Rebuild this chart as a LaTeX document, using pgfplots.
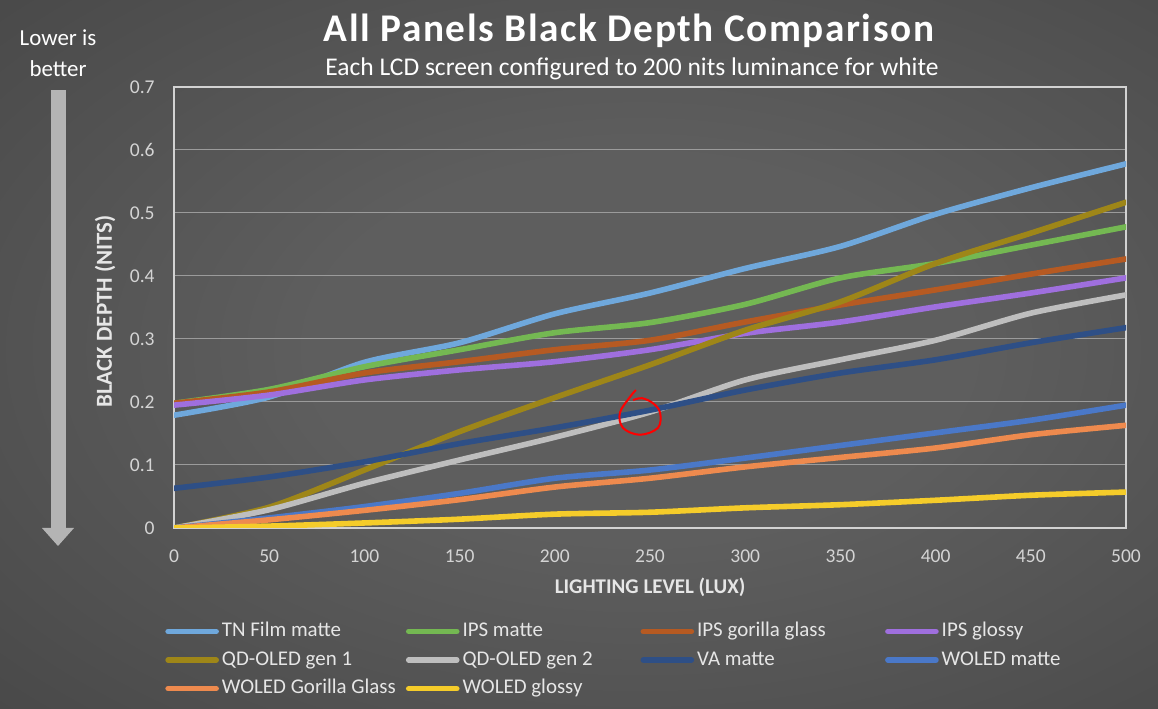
\documentclass[border=0pt]{standalone}
\usepackage{fontspec}
\setmainfont{Carlito}
\usepackage{pgfplots}
\pgfplotsset{compat=1.18}
\definecolor{bgin}{HTML}{5E5E5E}
\definecolor{bgout}{HTML}{1E1E1E}
\definecolor{tnc}{HTML}{6FA8DC}
\definecolor{ipsm}{HTML}{74B852}
\definecolor{ipsg}{HTML}{B65A22}
\definecolor{ipsgl}{HTML}{9F6FDE}
\definecolor{qd1}{HTML}{9E8618}
\definecolor{qd2}{HTML}{BEBEBE}
\definecolor{vam}{HTML}{2E4F86}
\definecolor{wm}{HTML}{4A78C8}
\definecolor{wgg}{HTML}{EE8A4E}
\definecolor{wgl}{HTML}{F5CC2A}
\definecolor{txt}{HTML}{E6E6E6}
\definecolor{tick}{HTML}{D4D4D4}
\definecolor{arrowgray}{HTML}{B4B4B4}
\pgfdeclareradialshading{bgshade}{\pgfpoint{0bp}{0bp}}{color(0bp)=(bgin); color(12bp)=(bgin); color(75bp)=(bgout)}
\newfontfamily\titlefont[LetterSpace=4]{Carlito}
\begin{document}
\begin{tikzpicture}
\path[use as bounding box] (0bp,0bp) rectangle (579bp,354.5bp);
\begin{scope}
\clip (0bp,0bp) rectangle (579bp,354.5bp);
\fill[bgout] (0bp,0bp) rectangle (579bp,354.5bp);
\shade[shading=bgshade] (-20bp,-20bp) rectangle (660bp,380bp);
\end{scope}
% title
\node[text=white, font=\titlefont\bfseries\fontsize{19.7}{23}\selectfont] at (314.5bp,339bp) {All Panels Black Depth Comparison};
\node[text=white, font=\fontsize{12.8}{15}\selectfont] at (316bp,320bp) {Each LCD screen configured to 200 nits luminance for white};
% lower is better
\node[text=white, font=\fontsize{11.5}{13}\selectfont] at (29bp,335.5bp) {Lower is};
\node[text=white, font=\fontsize{11.5}{13}\selectfont] at (29bp,320bp) {better};
\fill[arrowgray] (25.5bp,309.5bp) rectangle (33bp,90.5bp);
\fill[arrowgray] (21bp,90.5bp) -- (37bp,90.5bp) -- (29bp,81.5bp) -- cycle;
\begin{axis}[
  at={(87bp,90.5bp)}, anchor=south west,
  scale only axis, width=476bp, height=220.5bp,
  xmin=0, xmax=500, ymin=0, ymax=0.7,
  xtick={0,50,...,500}, ytick={0,0.1,...,0.7},
  yticklabels={0,0.1,0.2,0.3,0.4,0.5,0.6,0.7},
  major tick length=0pt,
  ymajorgrids, grid style={draw=white!38!bgin, line width=0.5bp},
  axis line style={draw=white!72!bgin, line width=0.7bp},
  /pgf/number format/assume math mode=true,
  ticklabel style={text=tick, font=\fontsize{9.8}{11}\selectfont},
  xticklabel style={anchor=center, yshift=-14bp},
  yticklabel style={anchor=east, inner sep=0pt, xshift=-9.5bp},
  xlabel={LIGHTING LEVEL (LUX)},
  ylabel={BLACK DEPTH (NITS)},
  label style={text=txt},
  xlabel style={at={(axis description cs:0.5,-0.134)}, anchor=center, font=\bfseries\fontsize{10.5}{12}\selectfont},
  ylabel style={at={(axis description cs:-0.0725,0.491)}, anchor=center, font=\bfseries\fontsize{11.5}{13}\selectfont},
  every axis plot/.append style={line width=2.8bp, line cap=round, line join=round, smooth, tension=0.45},
  legend columns=4,
  legend image code/.code={\draw[#1, line width=2.8bp, line cap=round] (0bp,0bp) -- (24bp,0bp);},
  legend style={at={(axis description cs:-0.0095,-0.211)}, anchor=north west,
    draw=none, fill=none, text=txt, font=\fontsize{10.5}{12}\selectfont,
    row sep=4.3bp, column sep=0pt, inner sep=0pt,
    nodes={inner sep=0pt, text height=7.5bp, text depth=2.5bp}},
  legend cell align=left,
]
\addplot[color=tnc] coordinates {(0,0.179) (50,0.208) (100,0.263) (150,0.294) (200,0.340) (250,0.373) (300,0.412) (350,0.447) (400,0.498) (450,0.540) (500,0.578)};
\addlegendentry{\makebox[93.5bp][l]{\hspace{1.5bp}TN Film matte}}
\addplot[color=ipsm] coordinates {(0,0.198) (50,0.220) (100,0.256) (150,0.283) (200,0.310) (250,0.326) (300,0.355) (350,0.397) (400,0.420) (450,0.449) (500,0.478)};
\addlegendentry{\makebox[90.5bp][l]{\hspace{1.5bp}IPS matte}}
\addplot[color=ipsg] coordinates {(0,0.198) (50,0.216) (100,0.246) (150,0.264) (200,0.283) (250,0.298) (300,0.327) (350,0.354) (400,0.378) (450,0.403) (500,0.427)};
\addlegendentry{\makebox[95.5bp][l]{\hspace{1.5bp}IPS gorilla glass}}
\addplot[color=ipsgl] coordinates {(0,0.195) (50,0.211) (100,0.235) (150,0.251) (200,0.264) (250,0.283) (300,0.309) (350,0.327) (400,0.351) (450,0.373) (500,0.397)};
\addlegendentry{\hspace{1.5bp}IPS glossy}
\addplot[color=qd1] coordinates {(0,0) (50,0.033) (100,0.092) (150,0.153) (200,0.207) (250,0.259) (300,0.314) (350,0.359) (400,0.420) (450,0.468) (500,0.517)};
\addlegendentry{\makebox[93.5bp][l]{\hspace{1.5bp}QD-OLED gen 1}}
\addplot[color=qd2] coordinates {(0,0) (50,0.029) (100,0.071) (150,0.108) (200,0.144) (250,0.184) (300,0.235) (350,0.267) (400,0.298) (450,0.341) (500,0.370)};
\addlegendentry{\makebox[90.5bp][l]{\hspace{1.5bp}QD-OLED gen 2}}
\addplot[color=vam] coordinates {(0,0.063) (50,0.081) (100,0.105) (150,0.134) (200,0.159) (250,0.187) (300,0.219) (350,0.246) (400,0.267) (450,0.294) (500,0.318)};
\addlegendentry{\makebox[95.5bp][l]{\hspace{1.5bp}VA matte}}
\addplot[color=wm] coordinates {(0,0) (50,0.016) (100,0.034) (150,0.055) (200,0.079) (250,0.092) (300,0.111) (350,0.131) (400,0.151) (450,0.171) (500,0.195)};
\addlegendentry{\hspace{1.5bp}WOLED matte}
\addplot[color=wgg] coordinates {(0,0) (50,0.013) (100,0.028) (150,0.045) (200,0.065) (250,0.079) (300,0.097) (350,0.112) (400,0.127) (450,0.148) (500,0.163)};
\addlegendentry{\makebox[93.5bp][l]{\hspace{1.5bp}WOLED Gorilla Glass}}
\addplot[color=wgl] coordinates {(0,0) (50,0.003) (100,0.008) (150,0.014) (200,0.022) (250,0.025) (300,0.032) (350,0.037) (400,0.044) (450,0.052) (500,0.057)};
\addlegendentry{\makebox[90.5bp][l]{\hspace{1.5bp}WOLED glossy}}
\draw[red, line width=1bp] plot[smooth, tension=0.6] coordinates {(axis cs:242.6,0.219) (axis cs:239.5,0.208) (axis cs:234.2,0.183) (axis cs:235.8,0.159) (axis cs:244.7,0.148) (axis cs:254.2,0.159) (axis cs:255.3,0.183) (axis cs:251.6,0.198) (axis cs:245.8,0.206) (axis cs:241.1,0.203)};
\end{axis}
\end{tikzpicture}
\end{document}
